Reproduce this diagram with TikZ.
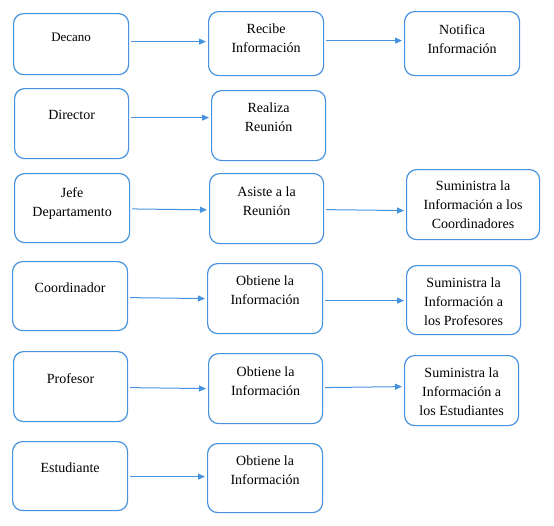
\documentclass[tikz,border=0pt]{standalone}
\usepackage{fontspec}
\setmainfont{Liberation Serif}
\newfontfamily\tnr{Liberation Serif}
\usetikzlibrary{arrows.meta}
\definecolor{boxblue}{RGB}{70,146,222}
\tikzset{
  box/.style={draw=boxblue, line width=1.2pt, rounded corners=10pt, inner sep=0pt, anchor=north west},
  txt/.style={anchor=north, align=center, inner sep=0pt, font=\tnr\fontsize{14}{19}\selectfont},
  conn/.style={draw=boxblue, line width=1pt, -{Triangle[length=7pt,width=6pt]}, shorten <=2pt, shorten >=2pt}
}
\newcommand{\bx}[5]{%
  \node[box, minimum width=#4pt-#2pt, minimum height=#5pt-#3pt] (#1) at (#2,#3) {};}
\begin{document}
\begin{tikzpicture}[x=1pt,y=-1pt]
\useasboundingbox (0,0) rectangle (554,525);
% boxes
\bx{dec}{13}{13}{128}{74}
\bx{rec}{208}{11}{323}{75}
\bx{not}{404}{11}{519}{75}
\bx{dir}{14}{88}{128}{158}
\bx{rea}{211}{90}{325}{160}
\bx{jefe}{14}{173}{129}{242}
\bx{asi}{209}{173}{323}{243}
\bx{sumc}{406}{169}{539}{239}
\bx{coo}{12}{261}{127}{330}
\bx{obtA}{207}{263}{322}{333}
\bx{sump}{406}{265}{520}{334}
\bx{pro}{13}{351}{127}{421}
\bx{obtB}{208}{353}{322}{423}
\bx{sume}{404}{355}{518}{425}
\bx{est}{12}{441}{127}{510}
\bx{obtC}{207}{443}{322}{512}
% texts
\node[txt, font=\tnr\fontsize{13}{19}\selectfont] (tdec) at ([yshift=-20pt]dec.north) {Decano};
\node[txt] (trec) at ([yshift=-13pt]rec.north) {Recibe\\Información};
\node[txt] (tnot) at ([yshift=-13pt]not.north) {Notifica\\Información};
\node[txt] (tdir) at ([yshift=-22pt]dir.north) {Director};
\node[txt] (trea) at ([yshift=-13pt]rea.north) {Realiza\\Reunión};
\node[txt] (tjefe) at ([yshift=-14pt]jefe.north) {Jefe\\Departamento};
\node[txt] (tasi) at ([yshift=-14pt]asi.north) {Asiste a la\\Reunión};
\node[txt] (tsumc) at ([yshift=-12pt]sumc.north) {Suministra la\\Información a los\\Coordinadores};
\node[txt] (tcoo) at ([yshift=-22pt]coo.north) {Coordinador};
\node[txt] (tobtA) at ([yshift=-13pt]obtA.north) {Obtiene la\\Información};
\node[txt] (tsump) at ([yshift=-13pt]sump.north) {Suministra la\\Información a\\los Profesores};
\node[txt] (tpro) at ([yshift=-22pt]pro.north) {Profesor};
\node[txt] (tobtB) at ([yshift=-14pt]obtB.north) {Obtiene la\\Información};
\node[txt] (tsume) at ([yshift=-13pt]sume.north) {Suministra la\\Información a\\los Estudiantes};
\node[txt] (test) at ([yshift=-22pt]est.north) {Estudiante};
\node[txt] (tobtC) at ([yshift=-13pt]obtC.north) {Obtiene la\\Información};
% connectors
\draw[conn] ([yshift=2.5pt]dec.east) -- ([yshift=2pt]rec.west);
\draw[conn] ([yshift=3pt]rec.east) -- ([yshift=3pt]not.west);
\draw[conn] ([yshift=6pt]dir.east) -- ([yshift=8pt]rea.west);
\draw[conn] ([yshift=-0.8pt]jefe.east) -- ([yshift=-1.3pt]asi.west);
\draw[conn] ([yshift=-1pt]asi.east) -- ([yshift=-6pt]sumc.west);
\draw[conn] ([yshift=-1.5pt]coo.east) -- (obtA.west);
\draw[conn] ([yshift=-2pt]obtA.east) -- ([yshift=-0.5pt]sump.west);
\draw[conn] ([yshift=-1pt]pro.east) -- (obtB.west);
\draw[conn] ([yshift=1pt]obtB.east) -- ([yshift=4pt]sume.west);
\draw[conn] ([yshift=-0.5pt]est.east) -- ([yshift=1.5pt]obtC.west);
\end{tikzpicture}
\end{document}
